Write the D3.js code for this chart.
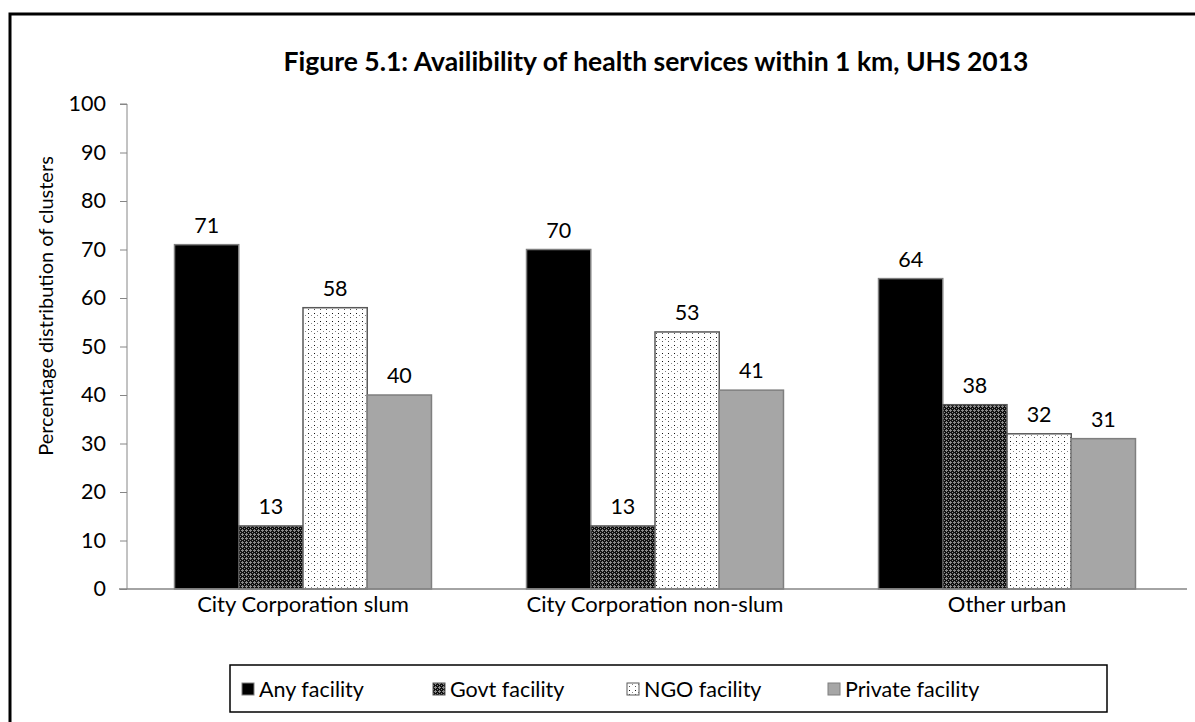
<!DOCTYPE html>
<html>
<head>
<meta charset="utf-8">
<style>
  body { margin: 0; background: #fff; }
  svg { display: block; font-family: Lato, "Open Sans", sans-serif; }
</style>
</head>
<body>
<svg width="1195" height="722"></svg>
<script src="https://d3js.org/d3.v7.min.js"></script>
<script>

var categories = ["City Corporation slum", "City Corporation non-slum", "Other urban"];
var series = ["Any facility", "Govt facility", "NGO facility", "Private facility"];
var anyFacility = [71, 70, 64];
var govtFacility = [13, 13, 38];
var ngoFacility = [58, 53, 32];
var privateFacility = [40, 41, 31];
var yTicks = [0, 10, 20, 30, 40, 50, 60, 70, 80, 90, 100];

var values = [anyFacility, govtFacility, ngoFacility, privateFacility];
var rows = [];
categories.forEach(function(c, i) {
  series.forEach(function(s, j) {
    rows.push({cat: c, series: s, value: values[j][i]});
  });
});

var svg = d3.select("svg");

var defs = svg.append("defs");

// dark checker pattern for govt
var pGovt = defs.append("pattern")
    .attr("id", "govt")
    .attr("patternUnits", "userSpaceOnUse")
    .attr("width", 4).attr("height", 4);
pGovt.append("rect").attr("width", 4).attr("height", 4).attr("fill", "#111");
[[2,1],[1,2],[2,2],[3,2],[2,3],[0,0]].forEach(function(p) {
  pGovt.append("rect").attr("x", p[0]).attr("y", p[1]).attr("width", 1).attr("height", 1).attr("fill", "#8a8a8a");
});

// dotted pattern for NGO
var pNgo = defs.append("pattern")
    .attr("id", "ngo")
    .attr("patternUnits", "userSpaceOnUse")
    .attr("width", 6).attr("height", 8);
pNgo.append("rect").attr("width", 6).attr("height", 8).attr("fill", "#fff");
pNgo.append("rect").attr("x", 2).attr("y", 1).attr("width", 1).attr("height", 1).attr("fill", "#111");
pNgo.append("rect").attr("x", 2).attr("y", 5).attr("width", 1).attr("height", 1).attr("fill", "#555");
pNgo.append("rect").attr("x", 5).attr("y", 3).attr("width", 1).attr("height", 1).attr("fill", "#888");

var fill = d3.scaleOrdinal()
    .domain(series)
    .range(["#000", "url(#govt)", "url(#ngo)", "#a6a6a6"]);
var stroke = d3.scaleOrdinal()
    .domain(series)
    .range(["#7f7f7f", "#595959", "#595959", "#7f7f7f"]);

// outer frame (only top/left visible)
svg.append("rect")
    .attr("x", 10).attr("y", 14)
    .attr("width", 1220).attr("height", 760)
    .attr("fill", "none")
    .attr("stroke", "#000")
    .attr("stroke-width", 3);

var margin = {left: 127, right: 1183, top: 104, bottom: 589};

var x0 = d3.scaleBand()
    .domain(categories)
    .range([margin.left, margin.right])
    .paddingInner(0.27)
    .paddingOuter(0.135);

var x1 = d3.scaleBand()
    .domain(series)
    .range([0, x0.bandwidth()]);

var y = d3.scaleLinear()
    .domain([0, 100])
    .range([margin.bottom, margin.top]);

// title
svg.append("text")
    .attr("x", 656)
    .attr("y", 71)
    .attr("text-anchor", "middle")
    .attr("font-size", 26.5)
    .attr("font-weight", "bold")
    .attr("fill", "#000")
    .text("Figure 5.1: Availibility of health services within 1 km, UHS 2013");

// y axis
var yAxis = svg.append("g")
    .attr("transform", "translate(" + margin.left + ",0)")
    .call(d3.axisLeft(y).tickValues(yTicks).tickSize(7).tickPadding(14).tickFormat(d3.format("d")));
yAxis.selectAll("path, line").attr("stroke", "#868686");
yAxis.select(".domain").attr("d", "M-7," + y(100) + "H0V" + y(0));
yAxis.selectAll("text")
    .attr("font-size", 21.5)
    .attr("font-family", "Lato, sans-serif")
    .attr("fill", "#000");

svg.append("text")
    .attr("transform", "translate(53,306) rotate(-90)")
    .attr("text-anchor", "middle")
    .attr("font-size", 20)
    .attr("fill", "#000")
    .text("Percentage distribution of clusters");

// bars
svg.append("g").selectAll("rect")
  .data(rows)
  .enter().append("rect")
    .attr("x", function(d) { return x0(d.cat) + x1(d.series); })
    .attr("y", function(d) { return y(d.value); })
    .attr("width", x1.bandwidth())
    .attr("height", function(d) { return y(0) - y(d.value); })
    .attr("fill", function(d) { return fill(d.series); })
    .attr("stroke", function(d) { return stroke(d.series); })
    .attr("stroke-width", 1.5);

// x axis line
svg.append("line")
    .attr("x1", margin.left - 8).attr("x2", margin.right + 4)
    .attr("y1", y(0)).attr("y2", y(0))
    .attr("stroke", "#868686")
    .attr("stroke-width", 1.5);

// value labels
svg.append("g").selectAll("text")
  .data(rows)
  .enter().append("text")
    .attr("x", function(d) { return x0(d.cat) + x1(d.series) + x1.bandwidth() / 2; })
    .attr("y", function(d) { return y(d.value) - 12; })
    .attr("text-anchor", "middle")
    .attr("font-size", 21.5)
    .attr("fill", "#000")
    .text(function(d) { return d.value; });

// category labels
svg.append("g").selectAll("text")
  .data(categories)
  .enter().append("text")
    .attr("x", function(d) { return x0(d) + x0.bandwidth() / 2; })
    .attr("y", 612)
    .attr("text-anchor", "middle")
    .attr("font-size", 22)
    .attr("fill", "#000")
    .text(function(d) { return d; });

// legend
var legendX = [242, 433, 627, 828];
var legend = svg.append("g");
legend.append("rect")
    .attr("x", 230).attr("y", 665)
    .attr("width", 877).attr("height", 47)
    .attr("fill", "#fff")
    .attr("stroke", "#000")
    .attr("stroke-width", 1.5);
var item = legend.selectAll("g.item")
  .data(series)
  .enter().append("g")
    .attr("class", "item")
    .attr("transform", function(d, i) { return "translate(" + legendX[i] + ",689)"; });
item.append("rect")
    .attr("x", 0).attr("y", -6)
    .attr("width", 12).attr("height", 12)
    .attr("fill", function(d) { return fill(d); })
    .attr("stroke", function(d) { return stroke(d); })
    .attr("stroke-width", 1);
item.append("text")
    .attr("x", 17).attr("y", 7.5)
    .attr("font-size", 21.5)
    .attr("fill", "#000")
    .text(function(d) { return d; });

</script>
</body>
</html>
